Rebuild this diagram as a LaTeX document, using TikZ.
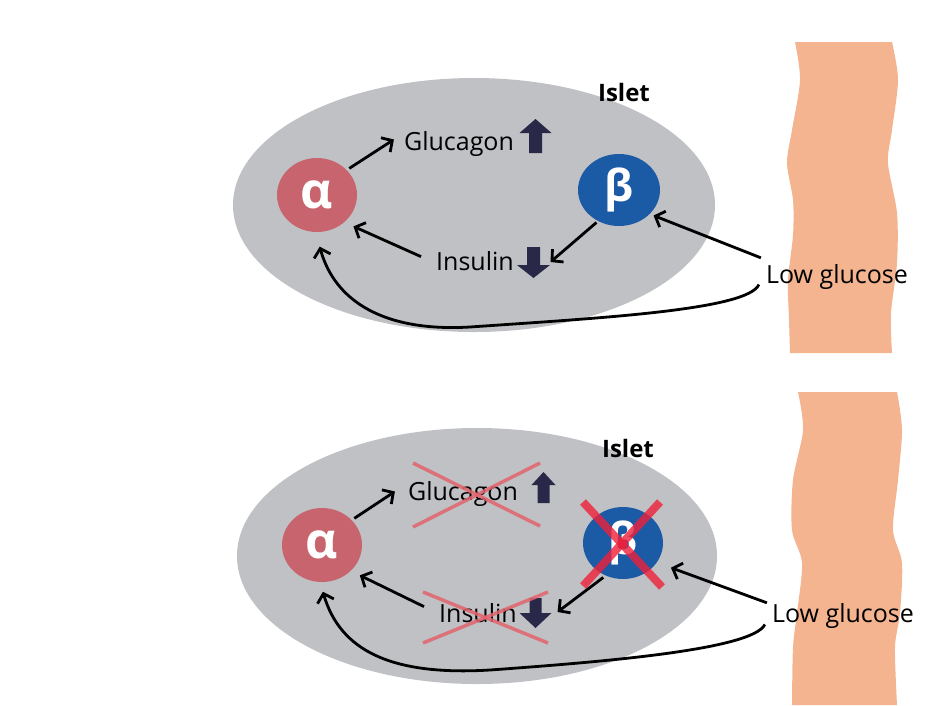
\documentclass[tikz,border=0pt]{standalone}
\usepackage{fontspec}
\setmainfont{Open Sans}
\usetikzlibrary{arrows.meta,shapes.geometric}
\definecolor{isletgray}{HTML}{C0C1C5}
\definecolor{alphacol}{HTML}{C8646E}
\definecolor{betacol}{HTML}{1B5AA5}
\definecolor{peach}{HTML}{F3B48F}
\definecolor{navy}{HTML}{2A2848}
\definecolor{xlight}{HTML}{E3646E}
\definecolor{xred}{HTML}{F0203A}
\begin{document}
\begin{tikzpicture}[x=1pt,y=-1pt,
  lbl/.style={font=\fontsize{25}{28}\selectfont, inner sep=1pt, anchor=base},
  isletlbl/.style={font=\bfseries\fontsize{24}{26}\selectfont, inner sep=1pt, anchor=base},
  cell/.style={ellipse, inner sep=0pt, text=white},
  isletbg/.style={ellipse, fill=isletgray, inner sep=0pt},
  arr/.style={line width=2.8pt, -{Straight Barb[length=8pt,width=17pt]}},
  band/.style={fill=peach},
  blk/.style={fill=navy},
  softx/.style={draw=xlight, line width=3.5pt, opacity=0.85},
  hardx/.style={draw=xred, line width=8pt, opacity=0.8}]
\useasboundingbox (0,0) rectangle (942,705);

% ---------------- top panel ----------------
\fill[band] plot[smooth] coordinates {(795,42) (800,80) (792,130) (787,163) (793,200) (793,235) (788,280) (789,320) (790,353)}
  -- plot[smooth] coordinates {(892,353) (891,313) (897,263) (897,213) (888,163) (892,130) (898,80) (892,42)} -- cycle;

\node[isletbg, minimum width=482pt, minimum height=254pt] (e1) at (474,205) {};
\node[isletlbl] (is1) at (624,101) {Islet};
\node[cell, fill=alphacol, minimum width=80pt, minimum height=74pt, font=\bfseries\fontsize{50}{50}\selectfont] (a1) at (317,195) {α};
\node[cell, fill=betacol, minimum width=82pt, minimum height=72pt, font=\bfseries\fontsize{44}{44}\selectfont] (b1) at (619,190) {β};
\node[lbl] (g1) at (459,150) {Glucagon};
\node[lbl] (i1) at (475,270) {Insulin};
\node[lbl] (l1) at (837,283) {Low glucose};

\coordinate (up1) at (535.5,119);
\fill[blk] (up1) -- ++(16,14) -- ++(-9.5,0) -- ++(0,20) -- ++(-13,0) -- ++(0,-20) -- ++(-9.5,0) -- cycle;
\coordinate (dn1) at (533.5,278);
\fill[blk] (dn1) -- ++(16.5,-13) -- ++(-10,0) -- ++(0,-18) -- ++(-13,0) -- ++(0,18) -- ++(-10,0) -- cycle;

\draw[arr, shorten <=3pt] (a1.40) -- ([shift={(-9,-4)}]g1.west);
\draw[arr, shorten >=10pt] ([shift={(-14,-4)}]i1.west) -- (a1.-45);
\draw[arr, shorten <=2pt] (b1.-124) -- ([shift={(17,-16)}]dn1);
\draw[arr, shorten >=4pt] ([shift={(-4,-5)}]l1.north west) -- (b1.-38);
\draw[arr, shorten >=15pt] ([shift={(-6,8)}]l1.west) .. controls (748,310) and (600,318) .. (470,327)
  .. controls (385,332) and (335,302) .. (a1.-92);

% ---------------- bottom panel ----------------
\fill[band] plot[smooth] coordinates {(798,392) (803,430) (793,480) (792,530) (802,563) (797,613) (793,647) (792,705)}
  -- plot[smooth] coordinates {(897,705) (895,647) (900,613) (902,563) (893,530) (898,480) (902,430) (897,392)} -- cycle;

\node[isletbg, minimum width=480pt, minimum height=256pt] (e2) at (477,556) {};
\node[isletlbl] (is2) at (628,457) {Islet};
\node[cell, fill=alphacol, minimum width=80pt, minimum height=74pt, font=\bfseries\fontsize{50}{50}\selectfont] (a2) at (322,545) {α};
\node[cell, fill=betacol, minimum width=80pt, minimum height=72pt, font=\bfseries\fontsize{44}{44}\selectfont] (b2) at (623,543) {β};
\node[lbl] (g2) at (463,500) {Glucagon};
\node[lbl] (i2) at (478,622) {Insulin};
\node[lbl] (l2) at (843,622) {Low glucose};

\coordinate (up2) at (543.5,472);
\fill[blk] (up2) -- ++(12,13) -- ++(-6,0) -- ++(0,18) -- ++(-12,0) -- ++(0,-18) -- ++(-6,0) -- cycle;
\coordinate (dn2) at (535.5,628);
\fill[blk] (dn2) -- ++(16,-15) -- ++(-10,0) -- ++(0,-15) -- ++(-12,0) -- ++(0,15) -- ++(-10,0) -- cycle;

\draw[arr, shorten <=3pt] (a2.40) -- ([shift={(-12,-2)}]g2.west);
\draw[arr, shorten >=10pt] ([shift={(-14,-6)}]i2.west) -- (a2.-42);
\draw[arr, shorten <=3pt] (b2.-118) -- ([shift={(22,-16)}]dn2);
\draw[arr, shorten >=15pt] ([shift={(-4,1)}]l2.north west) -- (b2.-30);
\draw[arr, shorten >=10pt] ([shift={(-6,9)}]l2.west) .. controls (752,650) and (600,662) .. (490,670)
  .. controls (390,676) and (340,650) .. (a2.-93);

% crosses
\draw[softx] (413,463) -- (540,526);
\draw[softx] (413,527) -- (540,463);
\draw[softx] (423,592) -- (548,643);
\draw[softx] (423,643) -- (548,592);
\draw[hardx] (583,502) -- (662,587);
\draw[hardx] (660,502) -- (583,586);
\end{tikzpicture}
\end{document}
